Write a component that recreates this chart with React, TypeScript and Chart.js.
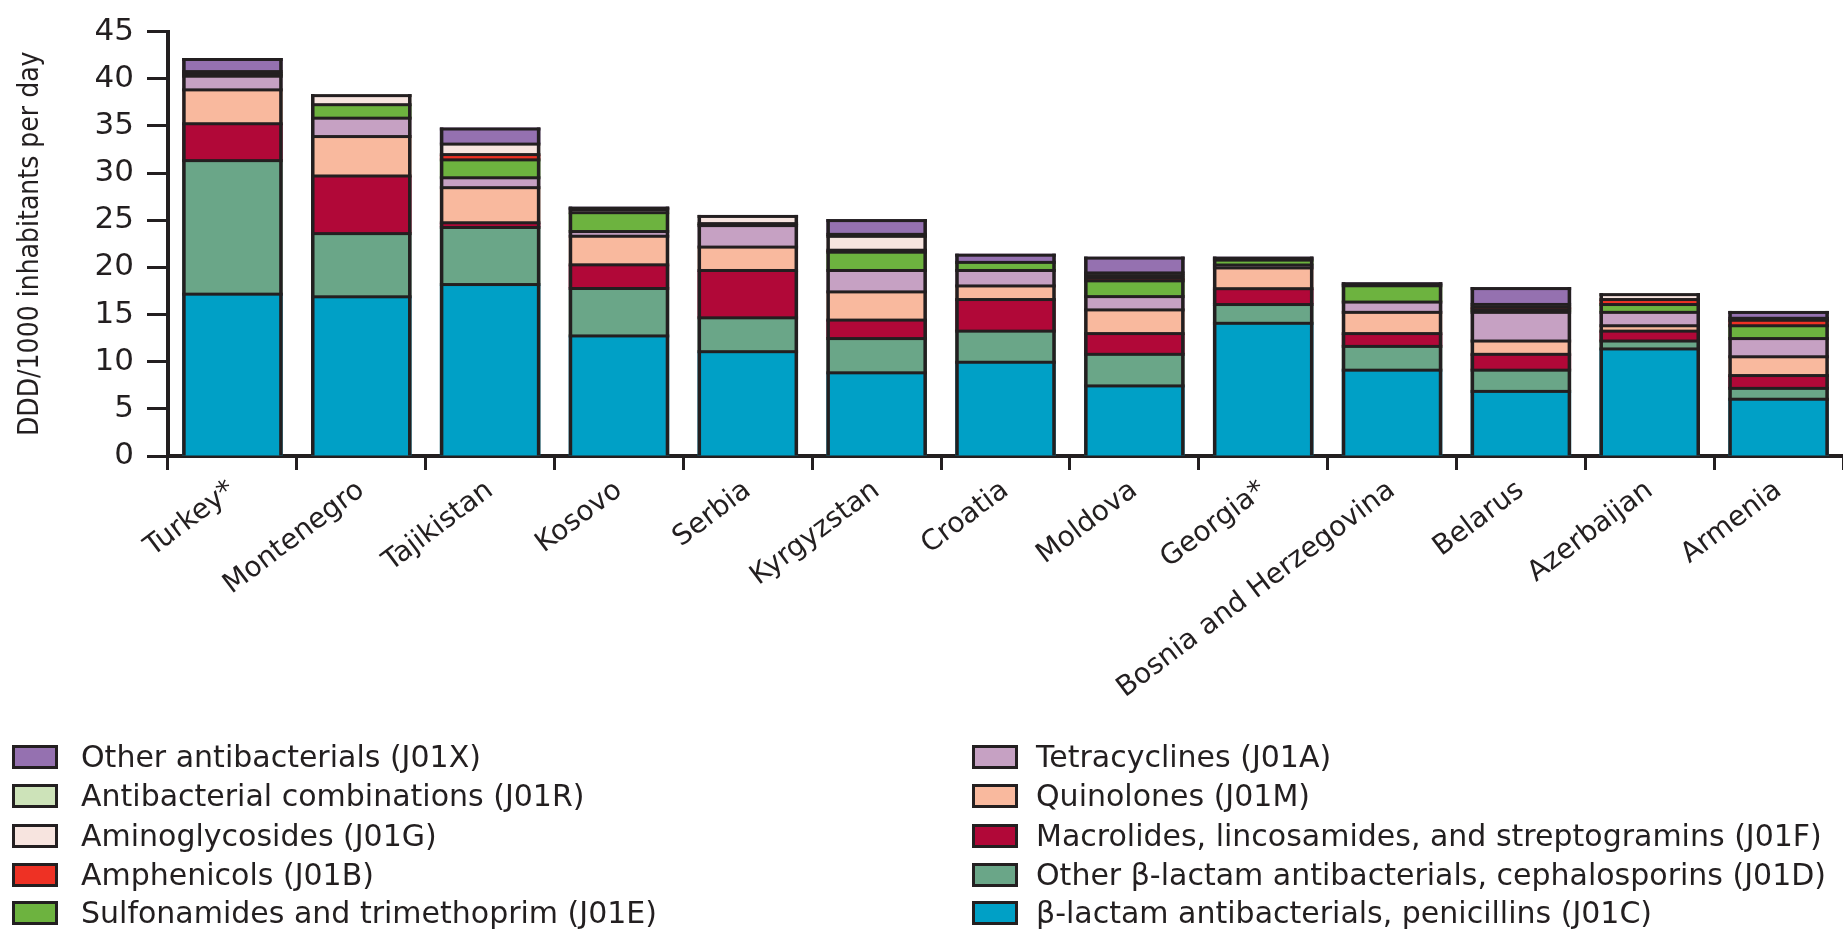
import React, { useEffect, useRef } from "react";
import { Chart, registerables } from "chart.js";

Chart.register(...registerables);

// ---------- data ----------
const countries = [
  "Turkey*",
  "Montenegro",
  "Tajikistan",
  "Kosovo",
  "Serbia",
  "Kyrgyzstan",
  "Croatia",
  "Moldova",
  "Georgia*",
  "Bosnia and Herzegovina",
  "Belarus",
  "Azerbaijan",
  "Armenia",
];

// DDD/1000 inhabitants per day, stacked bottom to top
const penicillinsJ01C = [17.16, 16.88, 18.18, 12.73, 11.06, 8.82, 9.94, 7.43, 14.07, 9.1, 6.85, 11.35, 6.02];
const cephalosporinsJ01D = [14.16, 6.7, 6.05, 5.03, 3.59, 3.63, 3.3, 3.35, 1.99, 2.52, 2.25, 0.84, 1.15];
const macrolidesJ01F = [3.91, 6.11, 0.5, 2.51, 5.02, 1.96, 3.35, 2.2, 1.68, 1.36, 1.68, 1.05, 1.36];
const quinolonesJ01M = [3.59, 4.18, 3.72, 3.03, 2.48, 2.99, 1.44, 2.51, 2.2, 2.25, 1.41, 0.57, 1.99];
const tetracyclinesJ01A = [1.45, 1.95, 1.05, 0.5, 2.28, 2.27, 1.64, 1.41, 0.31, 1.09, 3.04, 1.42, 1.93];
const sulfonamidesJ01E = [0.25, 1.43, 1.9, 2.0, 0.21, 1.94, 0.86, 1.67, 0.52, 1.73, 0.28, 0.83, 1.36];
const amphenicolsJ01B = [0, 0, 0.56, 0, 0, 0.21, 0, 0.28, 0, 0, 0.28, 0.53, 0.58];
const aminoglycosidesJ01G = [0.24, 1.12, 1.11, 0.32, 0.92, 1.47, 0, 0.28, 0, 0, 0.28, 0.68, 0.21];
const combinationsJ01R = [0, 0, 0, 0, 0, 0.21, 0, 0.28, 0, 0, 0, 0, 0];
const otherJ01X = [1.44, 0, 1.76, 0.32, 0, 1.62, 0.92, 1.73, 0.37, 0.37, 1.84, 0, 0.78];

const yTickValues = [0, 5, 10, 15, 20, 25, 30, 35, 40, 45];
const yTitle = "DDD/1000 inhabitants per day";

// ---------- style ----------
const INK = "#231f20";
const FONT = "'DejaVu Sans', sans-serif";
const NARROW = "'DejaVu Sans Condensed', 'Liberation Sans Narrow', sans-serif";
const SEPARATOR = 3; // line between stacked segments
const SIDE = 3.5; // bar side outline
const TOP_LINE = 3; // bar top outline

const series = [
  { label: "β-lactam antibacterials, penicillins (J01C)", data: penicillinsJ01C, color: "#00a0c6" },
  { label: "Other β-lactam antibacterials, cephalosporins (J01D)", data: cephalosporinsJ01D, color: "#6aa688" },
  { label: "Macrolides, lincosamides, and streptogramins (J01F)", data: macrolidesJ01F, color: "#b10838" },
  { label: "Quinolones (J01M)", data: quinolonesJ01M, color: "#f9b99e" },
  { label: "Tetracyclines (J01A)", data: tetracyclinesJ01A, color: "#c6a1c3" },
  { label: "Sulfonamides and trimethoprim (J01E)", data: sulfonamidesJ01E, color: "#6db33f" },
  { label: "Amphenicols (J01B)", data: amphenicolsJ01B, color: "#ee3124" },
  { label: "Aminoglycosides (J01G)", data: aminoglycosidesJ01G, color: "#f7e4df" },
  { label: "Antibacterial combinations (J01R)", data: combinationsJ01R, color: "#cde3b9" },
  { label: "Other antibacterials (J01X)", data: otherJ01X, color: "#9571b0" },
];

// Outlines each stacked segment using the bar elements' own geometry
const segmentOutlines = {
  id: "segmentOutlines",
  afterDatasetsDraw(chart: any) {
    const ctx = chart.ctx;
    ctx.save();
    ctx.fillStyle = INK;
    const n = chart.data.labels.length;
    for (let i = 0; i < n; i++) {
      let topY = Infinity;
      let baseY = -Infinity;
      let left = 0;
      let width = 0;
      chart.data.datasets.forEach((ds: any, di: number) => {
        const v = ds.data[i];
        const el = chart.getDatasetMeta(di).data[i];
        if (!el || !(v > 0)) return;
        const p = el.getProps(["x", "y", "base", "width"], true);
        left = p.x - p.width / 2;
        width = p.width;
        const segTop = Math.min(p.y, p.base);
        const segBase = Math.max(p.y, p.base);
        topY = Math.min(topY, segTop);
        baseY = Math.max(baseY, segBase);
        // separator along the segment's lower edge (skip the axis baseline)
        if (di > 0) ctx.fillRect(left, segBase - SEPARATOR / 2, width, SEPARATOR);
      });
      if (!isFinite(topY)) continue;
      ctx.fillRect(left, topY, width, TOP_LINE);
      ctx.fillRect(left, topY, SIDE, baseY - topY);
      ctx.fillRect(left + width - SIDE, topY, SIDE, baseY - topY);
    }
    ctx.restore();
  },
};

export default function App() {
  const ref = useRef<HTMLCanvasElement>(null);

  useEffect(() => {
    const canvas = ref.current;
    if (!canvas) return;
    const chart = new Chart(canvas, {
      type: "bar",
      data: {
        labels: countries,
        datasets: series.map((s) => ({
          label: s.label,
          data: s.data,
          backgroundColor: s.color,
          borderWidth: 0,
          inflateAmount: 0,
          categoryPercentage: 1,
          barPercentage: 0.78,
        })),
      },
      plugins: [segmentOutlines],
      options: {
        responsive: false,
        animation: false,
        devicePixelRatio: 1,
        layout: { padding: { top: 26, right: 0, bottom: 0, left: 0 } },
        plugins: { legend: { display: false }, tooltip: { enabled: false } },
        scales: {
          x: {
            stacked: true,
            offset: true,
            grid: {
              offset: true,
              drawOnChartArea: false,
              drawTicks: true,
              tickLength: 14,
              tickWidth: 3,
              tickColor: INK,
            },
            border: { display: true, width: 4, color: INK },
            ticks: {
              autoSkip: false,
              maxRotation: 37,
              minRotation: 37,
              color: INK,
              font: { family: FONT, size: 28 },
              padding: 4,
            },
            afterFit: (s: any) => {
              s.height = 473;
            },
          },
          y: {
            stacked: true,
            min: 0,
            max: 45,
            afterBuildTicks: (s: any) => {
              s.ticks = yTickValues.map((v) => ({ value: v }));
            },
            grid: {
              drawOnChartArea: false,
              drawTicks: true,
              tickLength: 21,
              tickWidth: 3,
              tickColor: INK,
            },
            border: { display: true, width: 4, color: INK },
            ticks: {
              color: INK,
              font: { family: FONT, size: 31 },
              padding: 13,
            },
            title: {
              display: true,
              text: yTitle,
              color: INK,
              font: { family: NARROW, size: 28 },
              padding: { top: 14, bottom: 0 },
            },
            afterFit: (s: any) => {
              s.width = 168;
            },
          },
        },
      },
    });
    return () => chart.destroy();
  }, []);

  const legendOrder = [...series].reverse();
  const rowCenters = [757, 796, 835.5, 874.5, 913];

  return (
    <div
      style={{
        position: "fixed",
        left: 0,
        top: 0,
        width: 1843,
        height: 929,
        background: "#ffffff",
        overflow: "hidden",
      }}
    >
      <canvas ref={ref} width={1843} height={929} style={{ display: "block", width: 1843, height: 929 }} />
      {legendOrder.map((s, idx) => {
        const col = Math.floor(idx / 5);
        const row = idx % 5;
        const left = col === 0 ? 12 : 972;
        return (
          <div
            key={s.label}
            style={{
              position: "absolute",
              left,
              top: rowCenters[row] - 20,
              height: 40,
              display: "flex",
              alignItems: "center",
              whiteSpace: "nowrap",
            }}
          >
            <div
              style={{
                width: 46,
                height: 24,
                boxSizing: "border-box",
                border: `3px solid ${INK}`,
                background: s.color,
                marginRight: col === 0 ? 23 : 18,
                flex: "none",
              }}
            />
            <span style={{ font: `30px ${FONT}`, color: INK, lineHeight: "40px" }}>{s.label}</span>
          </div>
        );
      })}
    </div>
  );
}
